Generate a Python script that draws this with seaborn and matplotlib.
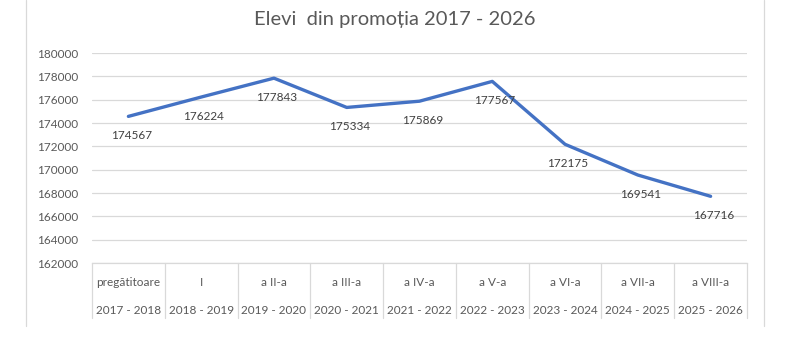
import matplotlib
matplotlib.use("Agg")
import matplotlib.pyplot as plt
import seaborn as sns
import pandas as pd
from matplotlib.lines import Line2D
import matplotlib.transforms as mtransforms

grades = ["pregătitoare", "I", "a II-a", "a III-a", "a IV-a", "a V-a", "a VI-a", "a VII-a", "a VIII-a"]
years = ["2017 - 2018", "2018 - 2019", "2019 - 2020", "2020 - 2021", "2021 - 2022",
         "2022 - 2023", "2023 - 2024", "2024 - 2025", "2025 - 2026"]
students = [174567, 176224, 177843, 175334, 175869, 177567, 172175, 169541, 167716]

sns.set_theme(style="white")
plt.rcParams["font.family"] = ["Lato", "DejaVu Sans"]

df = pd.DataFrame({"pos": range(len(grades)), "students": students})

fig = plt.figure(figsize=(8, 3.52), dpi=100)
ax = fig.add_axes([92/800, 1-263/352, (747-92)/800, 210/352])

sns.lineplot(data=df, x="pos", y="students", ax=ax, color="#4472C4", linewidth=2.4, sort=False)

ax.set_xlim(-0.5, len(grades)-0.5)
ax.set_ylim(162000, 180000)
ax.set_yticks(range(162000, 180001, 2000))
ax.set_yticklabels([str(v) for v in range(162000, 180001, 2000)], color="#595959", fontsize=8.5)
ax.tick_params(axis="y", length=0, pad=10)
ax.set_xticks([])
ax.set_xlabel("")
ax.set_ylabel("")
ax.grid(axis="y", color="#d9d9d9", linewidth=0.9)
ax.set_axisbelow(True)
for s in ["left", "right", "top"]:
    ax.spines[s].set_visible(False)
ax.spines["bottom"].set_color("#d9d9d9")
ax.spines["bottom"].set_linewidth(0.9)

for i, v in enumerate(students):
    ax.annotate(str(v), (i, v), xytext=(2, -14), textcoords="offset points",
                ha="center", va="center", fontsize=8.5, color="#404040")

trans = mtransforms.blended_transform_factory(ax.transData, ax.transAxes)
for i in range(len(grades)+1):
    ax.add_line(Line2D([i-0.5, i-0.5], [0, -55/210], transform=trans, color="#d9d9d9",
                       linewidth=0.9, clip_on=False))
for i, (g, y) in enumerate(zip(grades, years)):
    ax.text(i, -19/210, g, transform=trans, ha="center", va="center", fontsize=8.5, color="#595959")
    ax.text(i, -47/210, y, transform=trans, ha="center", va="center", fontsize=8.5, color="#595959")

fig.text(395/800, 1-20/352, "Elevi  din promoția 2017 - 2026", ha="center", va="center",
         fontsize=14.5, color="#595959")

for xp in [26, 764]:
    fig.add_artist(Line2D([xp/800, xp/800], [1, 1-326/352], transform=fig.transFigure,
                          color="#d9d9d9", linewidth=0.9))

fig.savefig("out.png", dpi=100)
